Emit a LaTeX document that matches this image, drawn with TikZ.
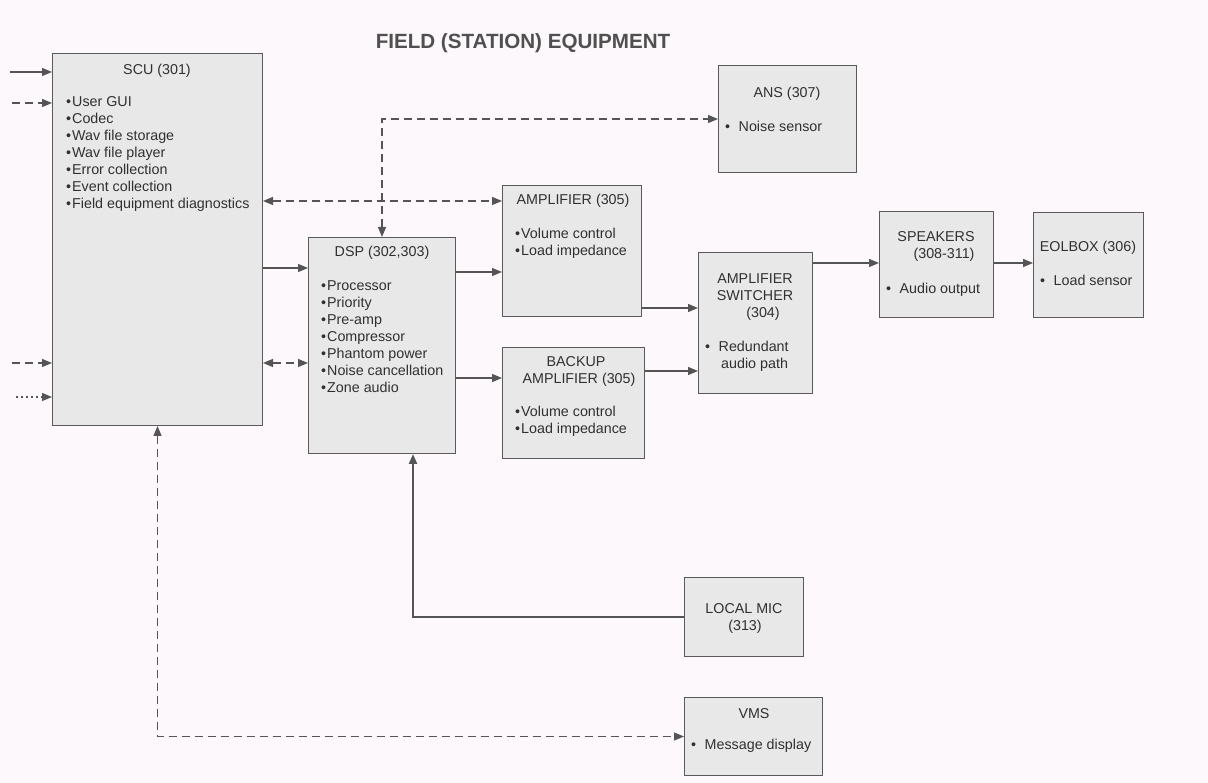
\documentclass[tikz,border=0pt]{standalone}
\usepackage{fontspec}
\setmainfont{Liberation Sans}
\usetikzlibrary{arrows.meta,calc}
\definecolor{bgc}{RGB}{252,248,251}
\definecolor{boxfill}{RGB}{232,232,232}
\definecolor{boxline}{RGB}{90,90,90}
\definecolor{txtc}{RGB}{48,48,48}
\definecolor{ttlc}{RGB}{80,80,80}
\definecolor{linec}{RGB}{85,85,85}
\tikzset{
  box/.style={draw=boxline,fill=boxfill,line width=1pt,rectangle,anchor=north west,inner sep=0pt},
  txt/.style={text=txtc,inner sep=0pt,font=\fontsize{14.3}{17}\selectfont},
  ttl/.style={text=ttlc,inner sep=0pt,font=\fontsize{20.6}{24}\selectfont\bfseries},
  conn/.style={draw=linec,line width=1.2pt,>={Triangle[length=10pt,width=8pt]}},
  dsh/.style={conn,dash pattern=on 8pt off 5pt},
  dtt/.style={conn,dash pattern=on 1.5pt off 3.5pt},
  heavy/.style={conn,line width=2.2pt}
}
\newcommand\mylines[5]{%
  \foreach \t [count=\i from 0] in {#5} {\node[txt,anchor=#2] (#1\i) at (#3,#4+17*\i) {\t};}}
\newcommand\bul{\textbullet\hspace{1pt}}
\newcommand\bulw{\textbullet\hspace{8.5pt}}
\begin{document}
\begin{tikzpicture}[x=1pt,y=-1pt]
\fill[bgc] (0,0) rectangle (1208,783);
\useasboundingbox (0,0) rectangle (1208,783);

% title
\node[ttl,anchor=base] (title) at (523,49) {FIELD (STATION) EQUIPMENT};

% boxes
\node[box,minimum width=210pt,minimum height=372pt] (scu) at (52,53) {};
\node[box,minimum width=147pt,minimum height=216pt] (dsp) at (308,237) {};
\node[box,minimum width=139pt,minimum height=131pt] (amp) at (502,185) {};
\node[box,minimum width=142pt,minimum height=111pt] (bamp) at (502,347) {};
\node[box,minimum width=138pt,minimum height=107pt] (ans) at (718,65) {};
\node[box,minimum width=114pt,minimum height=141pt] (sw) at (698,252) {};
\node[box,minimum width=114pt,minimum height=106pt] (spk) at (879,211) {};
\node[box,minimum width=110pt,minimum height=105pt] (eol) at (1033,212) {};
\node[box,minimum width=119pt,minimum height=79pt] (mic) at (684,577) {};
\node[box,minimum width=138pt,minimum height=78pt] (vms) at (684,697) {};

% texts
\node[txt,anchor=base] (scut) at (157,75) {SCU (301)};
\mylines{scul}{base west}{66}{107}{\bul User GUI,\bul Codec,\bul Wav file storage,\bul Wav file player,\bul Error collection,\bul Event collection,\bul Field equipment diagnostics}

\node[txt,anchor=base] (dspt) at (382,257) {DSP (302,303)};
\mylines{dspl}{base west}{321}{291}{\bul Processor,\bul Priority,\bul Pre-amp,\bul Compressor,\bul Phantom power,\bul Noise cancellation,\bul Zone audio}

\node[txt,anchor=base] (ampt) at (573,205) {AMPLIFIER (305)};
\mylines{ampl}{base west}{515}{239}{\bul Volume control,\bul Load impedance}

\node[txt,anchor=base] (bampt1) at (576,367) {BACKUP};
\node[txt,anchor=base] (bampt2) at (579,384) {AMPLIFIER (305)};
\mylines{bampl}{base west}{515}{417}{\bul Volume control,\bul Load impedance}

\node[txt,anchor=base] (anst) at (787,98) {ANS (307)};
\node[txt,anchor=base west] (ansl) at (725,132) {\bulw Noise sensor};

\mylines{swt}{base}{755}{284}{AMPLIFIER,SWITCHER}
\node[txt,anchor=base] (swt2) at (763,318) {(304)};
\node[txt,anchor=base west] (swl1) at (705,352) {\bulw Redundant};
\node[txt,anchor=base west] (swl2) at (721,369) {audio path};

\node[txt,anchor=base] (spkt1) at (936,242) {SPEAKERS};
\node[txt,anchor=base] (spkt2) at (944,259) {(308-311)};
\node[txt,anchor=base west] (spkl) at (886,294) {\bulw Audio output};

\node[txt,anchor=base] (eolt) at (1088,252) {EOLBOX (306)};
\node[txt,anchor=base west] (eoll) at (1040,286) {\bulw Load sensor};

\node[txt,anchor=base] (mict1) at (744,613) {LOCAL MIC};
\node[txt,anchor=base] (mict2) at (745,630) {(313)};

\node[txt,anchor=base] (vmst) at (754,718) {VMS};
\node[txt,anchor=base west] (vmsl) at (691,749) {\bulw Message display};

% helper coordinates
\coordinate (in1) at (10,72);
\coordinate (in2) at (12,103);
\coordinate (in3) at (12,363);
\coordinate (in4) at (16,397);
\coordinate (y201) at (0,201);
\coordinate (y268) at (0,268);
\coordinate (y363) at (0,363);
\coordinate (y272) at (0,272);
\coordinate (y378) at (0,378);
\coordinate (y308) at (0,308);
\coordinate (y371) at (0,371);
\coordinate (y263) at (0,263);
\coordinate (x413) at (413,0);

% connectors
\draw[conn,->] (in1) -- (in1 -| scu.west);
\draw[dsh,->] (in2) -- (in2 -| scu.west);
\draw[dsh,->] (in3) -- (in3 -| scu.west);
\draw[dtt,->] (in4) -- (in4 -| scu.west);

\draw[dsh,<->] (scu.east |- y201) -- (amp.west |- y201);
\draw[conn,->] (scu.east |- y268) -- (dsp.west |- y268);
\draw[dsh,<->] (scu.east |- y363) -- (dsp.west |- y363);
\draw[dsh,<->] (dsp.north) |- (ans.west);

\draw[conn,->] (dsp.east |- y272) -- (amp.west |- y272);
\draw[conn,->] (dsp.east |- y378) -- (bamp.west |- y378);
\draw[conn,->] (amp.east |- y308) -- (sw.west |- y308);
\draw[conn,->] (bamp.east |- y371) -- (sw.west |- y371);
\draw[conn,->] (sw.east |- y263) -- (spk.west |- y263);
\draw[conn,->] (spk.east |- y263) -- (eol.west |- y263);

\draw[heavy,->] (mic.west) -| (dsp.south -| x413);
\draw[dsh,<->] (scu.south) |- (vms.west);
\end{tikzpicture}
\end{document}
